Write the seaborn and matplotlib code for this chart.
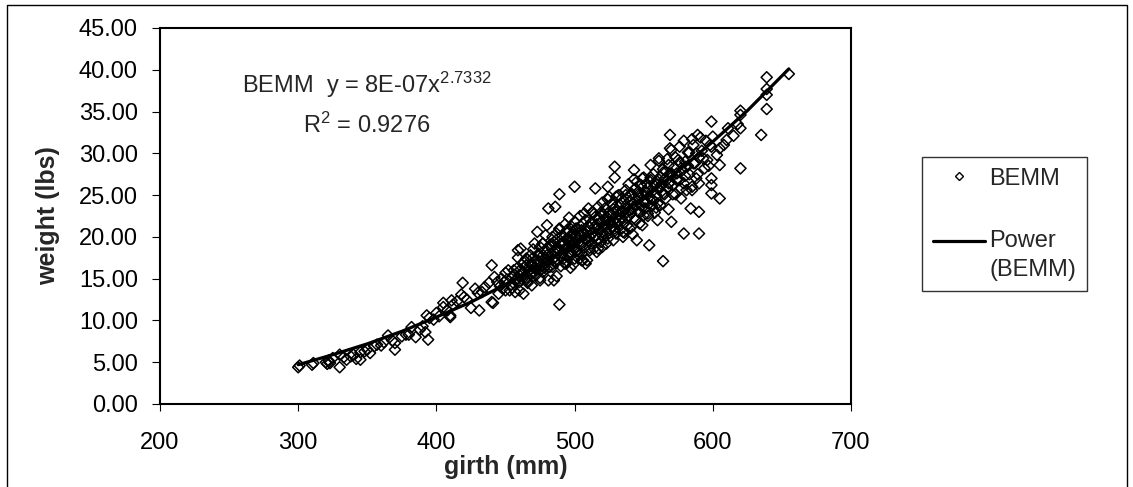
import matplotlib
matplotlib.use("Agg")
import matplotlib.pyplot as plt
import seaborn as sns
import numpy as np
import pandas as pd
from matplotlib.lines import Line2D
from matplotlib.legend_handler import HandlerLine2D
from matplotlib.ticker import FormatStrFormatter

# ---------------- data ----------------
girth_low = [300, 301, 310, 311, 320, 321, 322, 323, 325, 330,
             330, 333, 335, 338, 340, 342, 345, 345, 348, 350,
             352, 355, 357, 360, 362, 365, 368, 370, 370, 375,
             378, 380, 382, 385, 388, 390, 392, 393, 394, 395,
             398, 400, 402, 405, 405, 408, 410, 410, 411, 412,
             415, 418, 419, 420, 422, 425, 428, 430, 431, 433,
             435, 438, 440, 440, 441, 442, 444]
weight_low = [4.4, 4.6, 4.7, 4.9, 5.0, 4.8, 5.2, 4.9, 5.5, 4.4,
              5.9, 5.6, 5.3, 5.7, 5.9, 5.4, 5.3, 6.2, 6.3, 6.5,
              6.1, 6.9, 7.1, 7.0, 7.4, 8.2, 7.6, 7.3, 6.5, 8.1,
              8.3, 8.3, 9.2, 8.0, 8.9, 9.3, 8.6, 10.6, 7.7, 10.3,
              10.1, 10.9, 10.5, 12.1, 11.6, 11.2, 10.4, 10.6, 12.4, 11.9,
              12.3, 13.1, 14.5, 12.8, 12.5, 11.5, 13.8, 13.3, 11.2, 13.4,
              14.0, 14.5, 16.6, 12.2, 12.1, 15.2, 14.6]

girth_mid1 = [445, 446, 447, 448, 449, 450, 450, 451, 452, 453,
              454, 455, 455, 456, 457, 458, 459, 459, 460, 460,
              461, 461, 462, 463, 463, 464, 465, 465, 466, 466,
              467, 468, 468, 469, 470, 470, 470, 471, 472, 472,
              473, 473, 474, 474, 475, 475, 475, 476, 476, 477,
              477, 478, 478, 479, 479, 480, 480, 480, 481, 481,
              481, 482, 482, 483, 483, 484, 484, 485, 485, 485,
              486, 486, 486, 487, 487, 488, 488, 489, 489, 489,
              489, 490, 490, 490]
weight_mid1 = [13.2, 14.1, 15.0, 13.8, 14.6, 13.6, 15.7, 14.9, 16.0, 13.6,
               14.3, 15.2, 13.9, 15.5, 14.8, 16.2, 18.4, 15.0, 13.6, 15.4,
               16.1, 18.6, 14.9, 15.8, 17.0, 16.4, 16.6, 15.1, 17.3, 14.5,
               16.0, 17.8, 15.5, 16.8, 15.9, 17.5, 18.5, 16.3, 17.2, 15.4,
               20.6, 16.6, 18.0, 17.1, 14.8, 16.0, 18.8, 17.6, 16.5, 19.2,
               15.8, 17.4, 18.3, 16.9, 20.2, 21.4, 17.8, 16.2, 23.4, 18.5,
               17.1, 19.0, 16.4, 17.9, 18.8, 17.3, 20.0, 14.8, 18.2, 19.4,
               23.6, 17.6, 16.9, 18.7, 20.4, 17.2, 19.8, 25.1, 11.9, 18.3,
               21.0, 17.7, 19.2, 16.5]

girth_mid2 = [491, 491, 492, 492, 493, 493, 494, 494, 495, 495,
              495, 496, 496, 497, 497, 497, 498, 498, 498, 499,
              499, 500, 500, 500, 500, 500, 501, 501, 502, 502,
              503, 503, 504, 504, 505, 505, 505, 506, 506, 507,
              507, 508, 508, 508, 509, 509, 510, 510, 510, 511,
              511, 512, 512, 513, 513, 514, 514, 515, 515, 515,
              516, 516, 517, 517, 518, 518, 519, 519, 520, 520,
              520, 521, 521, 522, 522, 523, 523, 524, 524, 524,
              525, 525, 526, 526, 527, 527, 528, 528, 529, 529,
              529, 529, 530, 530, 530]
weight_mid2 = [18.0, 20.2, 19.1, 17.4, 18.6, 21.5, 19.7, 16.8, 18.9, 20.6,
               17.6, 19.4, 22.3, 18.2, 20.0, 16.3, 19.5, 21.2, 17.9, 18.8,
               20.5, 19.3, 26.0, 21.8, 17.4, 18.6, 20.1, 18.3, 19.6, 21.0,
               17.8, 20.4, 19.0, 22.5, 18.0, 20.8, 19.4, 21.6, 17.2, 20.2,
               18.7, 19.8, 16.8, 22.0, 20.6, 17.2, 19.5, 21.3, 23.4, 20.0,
               18.4, 21.7, 19.2, 20.5, 23.0, 18.6, 21.1, 25.8, 20.2, 22.4,
               18.2, 21.5, 19.8, 23.6, 20.9, 22.2, 19.4, 21.8, 18.8, 20.6,
               24.1, 22.7, 19.9, 21.3, 23.4, 20.5, 22.0, 26.0, 24.5, 19.8,
               21.7, 23.0, 20.9, 22.6, 24.0, 21.2, 19.6, 22.9, 28.4, 27.1,
               23.5, 21.0, 22.2, 24.8, 20.4]

girth_high1 = [531, 531, 532, 532, 533, 533, 534, 534, 535, 535,
               535, 536, 536, 537, 537, 538, 538, 539, 539, 540,
               540, 540, 541, 541, 542, 542, 543, 543, 544, 544,
               545, 545, 545, 546, 546, 547, 547, 548, 548, 549,
               549, 550, 550, 550, 551, 551, 552, 552, 553, 553,
               554, 554, 555, 555, 556, 556, 557, 557, 558, 558,
               559, 560, 560, 560, 561, 561, 562, 562, 563, 564,
               564, 564, 565, 566, 566, 567, 568, 568, 569, 569,
               569, 570, 570, 570]
weight_high1 = [23.1, 21.6, 22.6, 25.0, 20.8, 23.8, 22.3, 24.6, 20.0, 23.0,
                21.9, 20.5, 24.2, 22.8, 25.6, 21.4, 23.6, 22.5, 26.3, 23.2,
                21.0, 24.9, 22.8, 25.2, 24.0, 20.3, 28.0, 23.5, 25.8, 22.1,
                19.6, 24.4, 26.6, 23.0, 25.1, 24.6, 21.6, 26.2, 23.7, 21.4,
                25.0, 24.3, 27.1, 22.6, 25.5, 23.4, 26.4, 24.1, 22.5, 25.9,
                19.0, 24.8, 28.6, 26.8, 23.7, 25.4, 27.5, 24.4, 22.9, 26.1,
                25.0, 22.0, 26.6, 24.0, 29.4, 25.7, 27.2, 23.8, 26.3, 17.1,
                25.2, 28.1, 26.9, 24.6, 27.8, 25.9, 28.6, 23.3, 32.2, 30.6,
                26.5, 30.4, 21.8, 27.4]

girth_high2 = [571, 572, 573, 574, 575, 576, 576, 577, 578, 579,
               579, 580, 580, 581, 582, 583, 584, 585, 585, 586,
               587, 588, 589, 590, 590, 590, 590, 592, 594, 596,
               598, 599, 599, 599, 599, 599, 600, 603, 605, 605,
               605, 608, 610, 611, 615, 618, 620, 620, 620, 620,
               635, 639, 639, 639, 639, 655]
weight_high2 = [26.2, 28.3, 25.1, 27.6, 29.2, 30.8, 26.8, 24.6, 28.0, 20.4,
                26.4, 29.0, 27.3, 25.6, 28.5, 30.1, 23.4, 26.0, 25.6, 31.0,
                28.8, 27.0, 32.2, 23.0, 26.4, 20.4, 29.5, 30.3, 28.2, 29.2,
                31.0, 33.8, 30.8, 27.0, 26.2, 25.2, 32.0, 29.8, 28.6, 24.6,
                30.6, 31.0, 31.6, 33.0, 32.1, 33.5, 35.1, 34.6, 33.0, 28.2,
                32.2, 39.1, 37.7, 37.0, 35.3, 39.5]

# points estimated inside the solid dense band
girth_core = [456, 457, 459, 460, 462, 463, 465, 466, 468, 469,
              471, 472, 474, 475, 477, 478, 480, 481, 483, 484,
              486, 487, 489, 490, 492, 493, 495, 496, 498, 499,
              501, 502, 504, 505, 507, 508, 510, 511, 513, 514,
              516, 517, 519, 520, 522, 523, 525, 526, 528, 529,
              531, 532, 534, 535, 537, 538, 540, 541, 543, 544,
              546, 547, 549, 550, 552, 553, 555, 556, 558, 559,
              561, 562, 564, 565, 567, 568, 570, 571, 573, 574,
              576, 577, 579, 580, 582, 583, 585, 586, 588, 589,
              591, 593, 595, 597]
weight_core = [16.0, 13.4, 17.5, 14.6, 15.7, 13.2, 17.4, 14.7, 16.7, 14.2,
               19.2, 16.1, 17.7, 15.1, 19.2, 16.3, 17.3, 14.8, 19.1, 16.4,
               18.4, 15.3, 20.9, 17.8, 19.4, 16.8, 20.9, 18.0, 19.2, 16.7,
               21.0, 18.3, 20.3, 17.2, 22.8, 19.7, 21.3, 18.7, 22.9, 19.9,
               21.1, 18.6, 22.9, 20.2, 22.2, 19.2, 24.8, 21.7, 23.3, 20.7,
               24.9, 22.0, 23.1, 20.6, 25.0, 22.3, 24.3, 21.2, 26.9, 23.8,
               25.4, 22.9, 27.0, 24.1, 25.3, 22.8, 27.1, 24.5, 26.5, 23.5,
               29.1, 26.0, 27.7, 25.1, 29.3, 26.4, 27.6, 25.1, 29.5, 26.8,
               28.9, 25.8, 31.5, 28.4, 30.1, 27.5, 31.7, 28.8, 30.0, 27.5,
               31.9, 29.4, 31.5, 28.5]

# power trendline
fit_girth = [300, 325, 350, 375, 400, 425, 450, 475, 500, 525, 550, 575, 600, 625, 655]
fit_weight = [4.7, 5.9, 7.2, 8.7, 10.4, 12.2, 14.3, 16.6, 19.1, 21.8, 24.7, 27.9, 31.4, 35.1, 40.1]

x_ticks = [200, 300, 400, 500, 600, 700]
y_ticks = [0, 5, 10, 15, 20, 25, 30, 35, 40, 45]
eq_line1 = "BEMM  y = 8E-07x$^{2.7332}$"
eq_line2 = "R$^{2}$ = 0.9276"

# ---------------- style ----------------
sns.set_style("white")
plt.rcParams["font.family"] = ["Liberation Sans", "DejaVu Sans"]
plt.rcParams["mathtext.fontset"] = "custom"
plt.rcParams["mathtext.rm"] = "Liberation Sans"
plt.rcParams["mathtext.it"] = "Liberation Sans"
plt.rcParams["mathtext.default"] = "regular"

FS = 17
FS_LABEL = 18

W, H = 1133, 487
fig = plt.figure(figsize=(W / 100, H / 100), dpi=100)
fig.patch.set_facecolor("white")
ax = fig.add_axes([160 / W, 1 - 404 / H, (851 - 160) / W, (404 - 28) / H])
ax.set_facecolor("white")

df = pd.DataFrame({
    "girth": girth_low + girth_mid1 + girth_mid2 + girth_high1 + girth_high2 + girth_core,
    "weight": weight_low + weight_mid1 + weight_mid2 + weight_high1 + weight_high2 + weight_core,
})
fit_df = pd.DataFrame({"girth": fit_girth, "weight": fit_weight})

sns.scatterplot(data=df, x="girth", y="weight", marker="D", s=32,
                facecolor="none", edgecolor="black", linewidth=1.1,
                ax=ax, legend=False, zorder=2)
sns.lineplot(data=fit_df, x="girth", y="weight", color="black",
             linewidth=2.3, ax=ax, zorder=3)

ax.set_xlim(200, 700)
ax.set_ylim(0, 45)
ax.set_xticks(x_ticks)
ax.set_yticks(y_ticks)
ax.yaxis.set_major_formatter(FormatStrFormatter("%.2f"))
ax.tick_params(axis="x", direction="out", length=5, width=0.8, labelsize=FS,
               colors="black", pad=15, bottom=True)
ax.tick_params(axis="y", direction="out", length=6, width=0.8, labelsize=FS,
               colors="black", pad=10, left=True)
for sp in ax.spines.values():
    sp.set_visible(True)
    sp.set_color("black")
    sp.set_linewidth(1.5)

ax.set_xlabel("girth (mm)", fontsize=FS_LABEL, fontweight="bold")
ax.xaxis.set_label_coords(0.5, -0.135)
ax.set_ylabel("weight (lbs)", fontsize=FS_LABEL, fontweight="bold")
ax.yaxis.set_label_coords(-0.1447, 0.5)

ax.text(349.8, 37.18, eq_line1, fontsize=FS, ha="center", va="baseline")
ax.text(349.8, 32.40, eq_line2, fontsize=FS, ha="center", va="baseline")


class HandlerFirstLine(HandlerLine2D):
    """Line handle aligned with the first line of a two-line label."""
    def create_artists(self, legend, orig_handle, xdescent, ydescent,
                       width, height, fontsize, trans):
        shift = 0.63 * fontsize
        return super().create_artists(legend, orig_handle, xdescent,
                                      ydescent - 2 * shift, width, height,
                                      fontsize, trans)


h_pts = Line2D([], [], ls="none", marker="D", markersize=4.5, mfc="none",
               mec="black", mew=1.0)
h_fit = Line2D([], [], color="black", lw=2.3)
leg = fig.legend([h_pts, h_fit], ["BEMM", "Power\n(BEMM)"], loc="upper left",
                 bbox_to_anchor=(922 / W, 1 - 157 / H), bbox_transform=fig.transFigure,
                 borderaxespad=0, frameon=True, fancybox=False, framealpha=1,
                 fontsize=FS, handlelength=2.2, handletextpad=0.2,
                 borderpad=0.45, labelspacing=1.7,
                 handler_map={h_fit: HandlerFirstLine()})
leg.get_frame().set_edgecolor("#333333")
leg.get_frame().set_linewidth(1.0)
for t in leg.get_texts():
    t.set_linespacing(1.4)

# chart-area border (left, top, right)
fx0, fx1, fy1 = 7 / W, 1127 / W, 1 - 5 / H
fig.add_artist(Line2D([fx0, fx0, fx1, fx1], [0, fy1, fy1, 0],
                      transform=fig.transFigure, color="black", lw=1.0))

fig.savefig("out.png", dpi=100)
